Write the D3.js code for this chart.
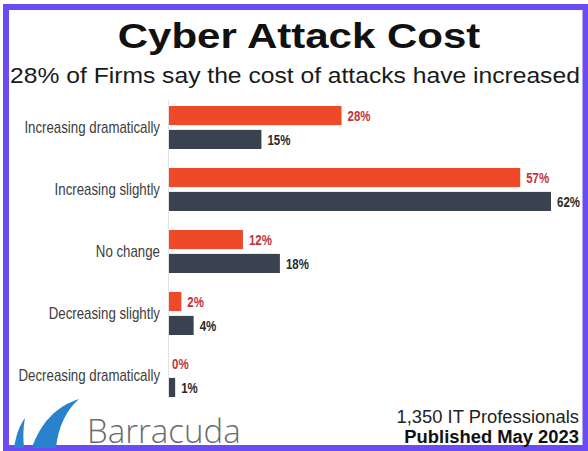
<!DOCTYPE html>
<html>
<head>
<meta charset="utf-8">
<script src="https://cdn.jsdelivr.net/npm/d3@7"></script>
<style>
  html, body { margin: 0; padding: 0; background: #ffffff; }
  svg { display: block; }
</style>
</head>
<body>
<svg id="chart" width="588" height="451"></svg>
<script>
// ---- data ----
const categories = ["Increasing dramatically", "Increasing slightly", "No change", "Decreasing slightly", "Decreasing dramatically"];
const seriesNames = ["series1", "series2"];
const series1 = [28, 57, 12, 2, 0];   // orange
const series2 = [15, 62, 18, 4, 1];   // dark slate
const titleText = "Cyber Attack Cost";
const subtitleText = "28% of Firms say the cost of attacks have increased";
const footnote1 = "1,350 IT Professionals";
const footnote2 = "Published May 2023";
const brandText = "Barracuda";

const colors = { series1: "#ee4a2a", series2: "#39434f" };
const labelColors = { series1: "#c4323c", series2: "#2a2a2a" };

const svg = d3.select("#chart");

// horizontal squeeze/stretch helper (keeps text as real text)
function scaleText(sel, factor) {
  sel.each(function () {
    const len = this.getComputedTextLength();
    d3.select(this).attr("textLength", len * factor).attr("lengthAdjust", "spacingAndGlyphs");
  });
}

// border
svg.append("rect")
  .attr("x", 6).attr("y", 7).attr("width", 579.5).attr("height", 441)
  .attr("fill", "#ffffff").attr("stroke", "#6a4cf2").attr("stroke-width", 6);

// title & subtitle
svg.append("text").attr("x", 299).attr("y", 48)
  .attr("text-anchor", "middle")
  .attr("font-family", "Liberation Sans, Arial, sans-serif")
  .attr("font-weight", "bold").attr("font-size", 35).attr("fill", "#111")
  .text(titleText)
  .call(scaleText, 1.2);
svg.append("text").attr("x", 295).attr("y", 83)
  .attr("text-anchor", "middle")
  .attr("font-family", "Liberation Sans, Arial, sans-serif")
  .attr("font-size", 22).attr("fill", "#1a1a1a")
  .text(subtitleText)
  .call(scaleText, 1.12);

// scales
const x = d3.scaleLinear().domain([0, 62]).range([169, 551]);
const y = d3.scaleBand().domain(categories).range([100, 410]).paddingInner(0).paddingOuter(0);
const ySub = d3.scaleBand().domain(seriesNames).range([6, 49]).paddingInner(0.2).paddingOuter(0);

// zero line
svg.append("line")
  .attr("x1", x(0) - 0.5).attr("x2", x(0) - 0.5)
  .attr("y1", y.range()[0]).attr("y2", y.range()[1] - 12)
  .attr("stroke", "#e2e2e2").attr("stroke-width", 1);

// category labels via d3 axis
const yAxis = d3.axisLeft(y).tickSize(0).tickPadding(0);
const gAxis = svg.append("g").attr("transform", `translate(${x(0) - 9},-3)`).call(yAxis);
gAxis.select(".domain").remove();
gAxis.selectAll("text")
  .attr("font-family", "Liberation Sans, Arial, sans-serif")
  .attr("font-size", 17).attr("fill", "#3d3d3d")
  .call(scaleText, 0.78);

// bars
const rows = categories.map((c, i) => ({ cat: c, vals: [
  { key: "series1", v: series1[i] },
  { key: "series2", v: series2[i] } ] }));

const g = svg.append("g");
const groups = g.selectAll("g.row").data(rows).join("g")
  .attr("class", "row")
  .attr("transform", d => `translate(0,${y(d.cat)})`);

groups.selectAll("rect").data(d => d.vals).join("rect")
  .attr("x", x(0))
  .attr("y", d => ySub(d.key))
  .attr("width", d => x(d.v) - x(0))
  .attr("height", ySub.bandwidth())
  .attr("fill", d => colors[d.key]);

groups.selectAll("text.val").data(d => d.vals).join("text")
  .attr("class", "val")
  .attr("x", d => x(d.v) + (d.v === 0 ? 3 : 6))
  .attr("y", d => ySub(d.key) + ySub.bandwidth() / 2)
  .attr("dy", "0.36em")
  .attr("font-family", "Liberation Sans, Arial, sans-serif")
  .attr("font-weight", "bold").attr("font-size", 15.5)
  .attr("fill", d => labelColors[d.key])
  .text(d => d.v + "%")
  .call(scaleText, 0.74);

// logo
const logo = svg.append("g");
logo.append("path")
  .attr("d", "M14,448 C16,436 19,426 25,418 C23,428 23,438 24,448 Z")
  .attr("fill", "#2a82cf");
logo.append("path")
  .attr("d", "M32,448 C40,424 56,406 79,399 C66,410 58,428 56,448 Z")
  .attr("fill", "#2a82cf");
svg.append("text").attr("x", 87).attr("y", 443)
  .attr("font-family", "Open Sans, Liberation Sans, sans-serif")
  .attr("font-weight", 300).attr("font-size", 33).attr("fill", "#6b6d70")
  .text(brandText);

// footnotes
svg.append("text").attr("x", 579).attr("y", 423)
  .attr("text-anchor", "end")
  .attr("font-family", "Liberation Sans, Arial, sans-serif")
  .attr("font-size", 17.5).attr("fill", "#222")
  .text(footnote1)
  .call(scaleText, 1.05);
svg.append("text").attr("x", 579).attr("y", 443)
  .attr("text-anchor", "end")
  .attr("font-family", "Liberation Sans, Arial, sans-serif")
  .attr("font-weight", "bold").attr("font-size", 17.5).attr("fill", "#111")
  .text(footnote2)
  .call(scaleText, 1.05);
</script>
</body>
</html>
